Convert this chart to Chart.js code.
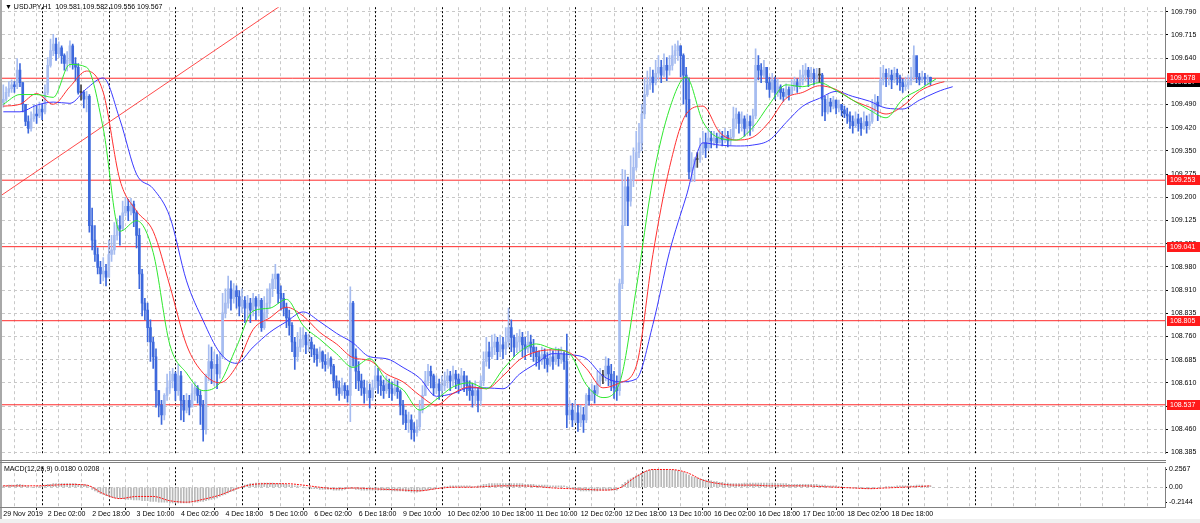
<!DOCTYPE html>
<html>
<head>
<meta charset="utf-8">
<script src="https://cdn.jsdelivr.net/npm/chart.js@4.4.1/dist/chart.umd.min.js"></script>
<style>
  html, body { margin: 0; padding: 0; background: #f0f0f0; }
  #wrap { position: relative; width: 1200px; height: 523px; overflow: hidden; }
  #panel { position: absolute; left: 0; top: 0; width: 1200px; height: 519px; background: #fff; }
  canvas { position: absolute; left: 0; }
  #main { top: 0; }
  #macd { top: 461px; }
  .txt { position: absolute; font: 7px "Liberation Sans", Arial, sans-serif; color: #000; white-space: pre; line-height: 8px; }
  .rule { position: absolute; background: #808080; }
</style>
</head>
<body>
<div id="wrap">
  <div id="panel"></div>
  <canvas id="main" width="1200" height="461"></canvas>
  <canvas id="macd" width="1200" height="62"></canvas>
  <div class="rule" style="left:0;top:0;width:2px;height:519px;background:#a8a8a8"></div>
  <div class="rule" style="left:0;top:460px;width:1166px;height:1px"></div>
  <div class="rule" style="left:0;top:462px;width:1166px;height:1px"></div>
  <div class="rule" style="left:0;top:507px;width:1166px;height:1px"></div>
  <div class="txt" style="left:5px;top:3px">▼ USDJPY,H1  109.581 109.582 109.556 109.567</div>
  <div class="txt" style="left:4px;top:465px">MACD(12,26,9) 0.0180 0.0208</div>
</div>
<script>
// USDJPY H1, one value per hourly bar (open = previous close)
const firstOpen = 109.500;
const closes = [
  109.511, 109.533, 109.545, 109.557, 109.551, 109.604, 109.564, 109.495,
  109.440, 109.418, 109.449, 109.464, 109.458, 109.480, 109.471, 109.533,
  109.619, 109.666, 109.687, 109.656, 109.675, 109.650, 109.625, 109.635,
  109.681, 109.625, 109.613, 109.533, 109.533, 109.511, 109.520, 109.108,
  109.062, 109.016, 108.975, 108.954, 108.963, 108.944, 109.016, 109.031,
  109.077, 109.108, 109.099, 109.149, 109.170, 109.155, 109.177, 109.149,
  109.077, 108.954, 108.861, 108.839, 108.783, 108.737, 108.690, 108.582,
  108.536, 108.505, 108.567, 108.591, 108.613, 108.635, 108.582, 108.629,
  108.551, 108.520, 108.551, 108.529, 108.573, 108.591, 108.567, 108.536,
  108.458, 108.629, 108.675, 108.653, 108.666, 108.635, 108.690, 108.830,
  108.861, 108.907, 108.876, 108.901, 108.882, 108.851, 108.870, 108.845,
  108.861, 108.839, 108.876, 108.851, 108.870, 108.783, 108.830, 108.861,
  108.907, 108.938, 108.954, 108.892, 108.876, 108.845, 108.814, 108.790,
  108.737, 108.690, 108.721, 108.746, 108.759, 108.728, 108.737, 108.715,
  108.697, 108.684, 108.706, 108.675, 108.666, 108.684, 108.660, 108.613,
  108.591, 108.573, 108.598, 108.582, 108.567, 108.861, 108.690, 108.644,
  108.613, 108.591, 108.573, 108.582, 108.560, 108.591, 108.629, 108.613,
  108.598, 108.582, 108.604, 108.588, 108.573, 108.591, 108.579, 108.536,
  108.505, 108.480, 108.489, 108.458, 108.449, 108.467, 108.520, 108.567,
  108.613, 108.644, 108.629, 108.591, 108.604, 108.582, 108.598, 108.613,
  108.629, 108.613, 108.635, 108.619, 108.604, 108.629, 108.613, 108.598,
  108.582, 108.567, 108.582, 108.551, 108.613, 108.675, 108.706, 108.690,
  108.721, 108.737, 108.706, 108.728, 108.715, 108.737, 108.783, 108.752,
  108.721, 108.737, 108.752, 108.728, 108.715, 108.737, 108.721, 108.706,
  108.690, 108.675, 108.697, 108.684, 108.666, 108.690, 108.675, 108.697,
  108.684, 108.697, 108.675, 108.505, 108.520, 108.489, 108.511, 108.480,
  108.505, 108.489, 108.567, 108.551, 108.582, 108.573, 108.613, 108.629,
  108.629, 108.660, 108.635, 108.613, 108.591, 108.582, 108.923, 109.108,
  109.232, 109.186, 109.254, 109.294, 109.341, 109.372, 109.464, 109.526,
  109.557, 109.582, 109.564, 109.594, 109.613, 109.588, 109.619, 109.604,
  109.619, 109.650, 109.666, 109.681, 109.650, 109.588, 109.511, 109.279,
  109.294, 109.319, 109.319, 109.341, 109.372, 109.356, 109.387, 109.378,
  109.387, 109.372, 109.393, 109.381, 109.396, 109.378, 109.390, 109.449,
  109.464, 109.434, 109.449, 109.418, 109.440, 109.427, 109.458, 109.619,
  109.604, 109.588, 109.613, 109.564, 109.542, 109.573, 109.533, 109.551,
  109.533, 109.520, 109.542, 109.526, 109.551, 109.564, 109.551, 109.573,
  109.588, 109.604, 109.582, 109.594, 109.576, 109.588, 109.588, 109.511,
  109.471, 109.502, 109.489, 109.508, 109.483, 109.495, 109.477, 109.464,
  109.458, 109.440, 109.427, 109.449, 109.434, 109.418, 109.440, 109.427,
  109.440, 109.480, 109.502, 109.489, 109.573, 109.594, 109.582, 109.588,
  109.573, 109.594, 109.582, 109.564, 109.551, 109.557, 109.570, 109.582,
  109.650, 109.582, 109.573, 109.582, 109.576, 109.581, 109.567
];
const highs = [
  109.557, 109.551, 109.567, 109.573, 109.567, 109.641, 109.625, 109.564,
  109.495, 109.458, 109.471, 109.495, 109.489, 109.502, 109.495, 109.557,
  109.644, 109.703, 109.718, 109.706, 109.694, 109.681, 109.656, 109.663,
  109.697, 109.687, 109.644, 109.625, 109.557, 109.539, 109.536, 109.526,
  109.164, 109.108, 109.037, 108.994, 109.006, 108.985, 109.062, 109.077,
  109.118, 109.130, 109.139, 109.186, 109.198, 109.192, 109.195, 109.186,
  109.155, 109.099, 108.969, 108.876, 108.861, 108.808, 108.752, 108.715,
  108.582, 108.551, 108.573, 108.635, 108.644, 108.653, 108.641, 108.666,
  108.644, 108.567, 108.573, 108.567, 108.604, 108.610, 108.598, 108.582,
  108.551, 108.635, 108.728, 108.721, 108.706, 108.697, 108.706, 108.892,
  108.907, 108.947, 108.932, 108.923, 108.916, 108.901, 108.907, 108.882,
  108.886, 108.876, 108.892, 108.882, 108.889, 108.876, 108.882, 108.907,
  108.923, 108.954, 108.985, 108.954, 108.916, 108.892, 108.861, 108.839,
  108.799, 108.752, 108.768, 108.783, 108.783, 108.768, 108.762, 108.752,
  108.728, 108.715, 108.721, 108.709, 108.697, 108.703, 108.690, 108.666,
  108.629, 108.613, 108.622, 108.607, 108.598, 108.913, 108.867, 108.715,
  108.675, 108.635, 108.616, 108.613, 108.604, 108.616, 108.660, 108.653,
  108.629, 108.616, 108.629, 108.619, 108.610, 108.619, 108.613, 108.585,
  108.551, 108.520, 108.514, 108.505, 108.480, 108.489, 108.551, 108.598,
  108.644, 108.666, 108.660, 108.635, 108.629, 108.619, 108.629, 108.641,
  108.650, 108.644, 108.660, 108.647, 108.635, 108.653, 108.644, 108.629,
  108.613, 108.604, 108.613, 108.591, 108.629, 108.706, 108.752, 108.737,
  108.759, 108.762, 108.752, 108.759, 108.752, 108.783, 108.845, 108.808,
  108.759, 108.765, 108.777, 108.768, 108.752, 108.771, 108.759, 108.746,
  108.721, 108.709, 108.721, 108.715, 108.703, 108.715, 108.709, 108.721,
  108.715, 108.721, 108.706, 108.762, 108.551, 108.542, 108.551, 108.536,
  108.536, 108.529, 108.573, 108.591, 108.604, 108.598, 108.644, 108.653,
  108.647, 108.690, 108.684, 108.666, 108.644, 108.629, 108.938, 109.288,
  109.285, 109.263, 109.331, 109.356, 109.409, 109.434, 109.495, 109.579,
  109.601, 109.613, 109.604, 109.635, 109.650, 109.635, 109.656, 109.644,
  109.650, 109.681, 109.687, 109.697, 109.681, 109.656, 109.613, 109.579,
  109.341, 109.325, 109.341, 109.387, 109.409, 109.403, 109.418, 109.409,
  109.409, 109.403, 109.415, 109.409, 109.418, 109.409, 109.415, 109.486,
  109.483, 109.471, 109.471, 109.458, 109.464, 109.458, 109.480, 109.672,
  109.650, 109.625, 109.635, 109.613, 109.582, 109.594, 109.582, 109.576,
  109.557, 109.545, 109.560, 109.551, 109.573, 109.582, 109.576, 109.604,
  109.619, 109.625, 109.613, 109.613, 109.607, 109.610, 109.610, 109.594,
  109.520, 109.526, 109.514, 109.520, 109.508, 109.508, 109.495, 109.489,
  109.483, 109.471, 109.458, 109.471, 109.464, 109.452, 109.471, 109.458,
  109.464, 109.511, 109.526, 109.520, 109.613, 109.619, 109.607, 109.610,
  109.604, 109.613, 109.607, 109.588, 109.576, 109.582, 109.588, 109.613,
  109.681, 109.644, 109.594, 109.601, 109.594, 109.588, 109.582
];
const lows = [
  109.486, 109.505, 109.520, 109.533, 109.533, 109.545, 109.551, 109.471,
  109.427, 109.403, 109.409, 109.440, 109.434, 109.452, 109.446, 109.464,
  109.526, 109.613, 109.650, 109.635, 109.644, 109.625, 109.604, 109.601,
  109.613, 109.607, 109.570, 109.527, 109.508, 109.483, 109.471, 109.087,
  109.031, 108.994, 108.954, 108.923, 108.932, 108.916, 108.975, 108.994,
  109.016, 109.062, 109.046, 109.093, 109.139, 109.124, 109.142, 109.105,
  109.037, 108.907, 108.820, 108.808, 108.737, 108.675, 108.653, 108.529,
  108.498, 108.474, 108.489, 108.551, 108.573, 108.591, 108.551, 108.567,
  108.489, 108.483, 108.511, 108.505, 108.542, 108.551, 108.542, 108.474,
  108.421, 108.443, 108.613, 108.604, 108.598, 108.588, 108.622, 108.684,
  108.814, 108.845, 108.839, 108.861, 108.845, 108.820, 108.830, 108.799,
  108.814, 108.799, 108.820, 108.808, 108.820, 108.771, 108.777, 108.814,
  108.845, 108.882, 108.907, 108.861, 108.839, 108.820, 108.783, 108.759,
  108.706, 108.650, 108.675, 108.706, 108.721, 108.700, 108.706, 108.690,
  108.672, 108.660, 108.672, 108.653, 108.644, 108.653, 108.635, 108.591,
  108.567, 108.551, 108.567, 108.557, 108.545, 108.483, 108.660, 108.588,
  108.582, 108.567, 108.542, 108.551, 108.526, 108.551, 108.585, 108.573,
  108.567, 108.557, 108.573, 108.560, 108.551, 108.567, 108.557, 108.505,
  108.474, 108.458, 108.449, 108.427, 108.421, 108.437, 108.455, 108.511,
  108.567, 108.598, 108.591, 108.567, 108.573, 108.554, 108.567, 108.582,
  108.591, 108.582, 108.598, 108.588, 108.573, 108.591, 108.579, 108.567,
  108.551, 108.529, 108.536, 108.514, 108.536, 108.598, 108.660, 108.653,
  108.684, 108.697, 108.681, 108.690, 108.684, 108.697, 108.721, 108.706,
  108.690, 108.703, 108.709, 108.690, 108.681, 108.703, 108.690, 108.675,
  108.660, 108.650, 108.666, 108.653, 108.641, 108.660, 108.650, 108.666,
  108.660, 108.669, 108.650, 108.464, 108.489, 108.467, 108.480, 108.452,
  108.467, 108.449, 108.480, 108.536, 108.551, 108.542, 108.567, 108.598,
  108.604, 108.613, 108.598, 108.582, 108.557, 108.551, 108.567, 108.907,
  109.108, 109.108, 109.170, 109.232, 109.285, 109.325, 109.347, 109.449,
  109.520, 109.542, 109.533, 109.557, 109.573, 109.564, 109.582, 109.570,
  109.588, 109.604, 109.625, 109.635, 109.582, 109.495, 109.455, 109.257,
  109.248, 109.248, 109.294, 109.310, 109.334, 109.325, 109.347, 109.356,
  109.365, 109.356, 109.372, 109.362, 109.372, 109.359, 109.365, 109.384,
  109.418, 109.403, 109.409, 109.393, 109.403, 109.396, 109.409, 109.449,
  109.573, 109.564, 109.579, 109.542, 109.517, 109.533, 109.511, 109.520,
  109.511, 109.505, 109.517, 109.508, 109.526, 109.539, 109.533, 109.545,
  109.557, 109.570, 109.551, 109.564, 109.557, 109.564, 109.564, 109.458,
  109.443, 109.464, 109.471, 109.480, 109.464, 109.471, 109.458, 109.452,
  109.434, 109.418, 109.403, 109.421, 109.409, 109.396, 109.415, 109.403,
  109.415, 109.434, 109.471, 109.443, 109.489, 109.557, 109.551, 109.557,
  109.545, 109.564, 109.557, 109.539, 109.533, 109.539, 109.545, 109.557,
  109.573, 109.564, 109.557, 109.564, 109.557, 109.557, 109.556
];

// Alligator lines, read every 6 bars (jaw shifted 8 bars, teeth 5, lips 3)
const maBars = [0, 6, 12, 18, 24, 30, 36, 42, 48, 54, 60, 66, 72, 78, 84, 90, 96, 102, 108, 114,
  120, 126, 132, 138, 144, 150, 156, 162, 168, 174, 180, 186, 192, 198, 204, 210, 216, 222, 228, 234,
  240, 246, 252, 258, 264, 270, 276, 282, 288, 294, 300, 306, 312, 318, 324, 330, 336, 339, 342];
const jaw = [109.471, 109.471, 109.492, 109.502, 109.498, 109.545, 109.579, 109.446, 109.272, 109.226,
  109.136, 108.932, 108.805, 108.703, 108.669, 108.721, 108.768, 108.802, 108.833, 108.802,
  108.765, 108.734, 108.690, 108.684, 108.656, 108.622, 108.564, 108.573, 108.591, 108.591,
  108.588, 108.635, 108.669, 108.700, 108.697, 108.684, 108.629, 108.610, 108.619, 108.793,
  109.025, 109.201, 109.372, 109.365, 109.362, 109.365, 109.381, 109.437, 109.489, 109.514,
  109.536, 109.520, 109.505, 109.483, 109.480, 109.508, 109.533, 109.543, 109.551];
const teeth = [109.489, 109.495, 109.529, 109.495, 109.551, 109.601, 109.533, 109.254, 109.155, 109.090,
  108.916, 108.728, 108.638, 108.607, 108.660, 108.777, 108.814, 108.848, 108.820, 108.768,
  108.731, 108.687, 108.678, 108.635, 108.610, 108.567, 108.536, 108.573, 108.594, 108.588,
  108.629, 108.681, 108.706, 108.712, 108.703, 108.653, 108.591, 108.607, 108.660, 109.016,
  109.294, 109.464, 109.489, 109.406, 109.381, 109.390, 109.440, 109.514, 109.533, 109.554,
  109.542, 109.508, 109.486, 109.464, 109.489, 109.536, 109.560, 109.567, null];
const lips = [109.495, 109.526, 109.526, 109.517, 109.622, 109.613, 109.418, 109.090, 109.124, 109.022,
  108.728, 108.638, 108.582, 108.607, 108.721, 108.836, 108.845, 108.873, 108.790, 108.746,
  108.700, 108.656, 108.684, 108.616, 108.585, 108.520, 108.554, 108.594, 108.607, 108.588,
  108.650, 108.706, 108.731, 108.715, 108.700, 108.601, 108.560, 108.607, 108.907, 109.257,
  109.480, 109.582, 109.440, 109.387, 109.381, 109.421, 109.495, 109.557, 109.551, 109.564,
  109.539, 109.508, 109.477, 109.452, 109.511, 109.542, 109.576, null, null];

// MACD(12,26,9): main per bar, signal read every 6 bars
const macdMain = [
  0.02, 0.02, 0.03, 0.03, 0.03, 0.04, 0.04, 0.03, 0.02, 0.01,
  0.00, 0.00, 0.01, 0.01, 0.02,
  0.03, 0.04, 0.04, 0.05, 0.05, 0.05, 0.05, 0.05, 0.05, 0.05,
  0.05, 0.05, 0.04, 0.04, 0.04, 0.03, 0.01,
  -0.03, -0.05, -0.07, -0.09, -0.10, -0.12, -0.13, -0.14, -0.15, -0.15,
  -0.16, -0.16, -0.17, -0.17, -0.17, -0.18, -0.18, -0.18, -0.19, -0.19,
  -0.19, -0.20, -0.20, -0.20, -0.21, -0.21, -0.21, -0.21, -0.22, -0.22,
  -0.22, -0.22, -0.22, -0.22, -0.22, -0.22, -0.21, -0.21, -0.21, -0.20,
  -0.20, -0.19, -0.18, -0.17, -0.16, -0.15, -0.13, -0.11, -0.10, -0.08,
  -0.06, -0.05, -0.03, -0.01,
  0.01, 0.03, 0.04, 0.05, 0.05, 0.06, 0.06, 0.06, 0.06, 0.06, 0.06, 0.06, 0.05, 0.05, 0.05, 0.04, 0.04,
  0.03, 0.03, 0.02, 0.02, 0.01, 0.00,
  -0.01, -0.01, -0.02, -0.02, -0.02, -0.03, -0.03, -0.03, -0.03, -0.03, -0.04, -0.04, -0.04, -0.04,
  -0.03, -0.02, -0.02, -0.02, -0.03, -0.03, -0.04, -0.04, -0.04, -0.04, -0.04, -0.04, -0.04, -0.04,
  -0.04, -0.04, -0.04, -0.05, -0.05, -0.05,
  -0.05, -0.05, -0.06, -0.06, -0.07, -0.07, -0.07, -0.06, -0.05, -0.04, -0.04, -0.03, -0.03, -0.02,
  -0.01, 0.00, 0.01, 0.01, 0.02, 0.02, 0.02, 0.02, 0.02, 0.02, 0.02, 0.02, 0.01, 0.01, 0.02, 0.03,
  0.04, 0.04, 0.05, 0.05, 0.05, 0.05, 0.05, 0.05, 0.05, 0.05,
  0.05, 0.05, 0.05, 0.05, 0.05, 0.04, 0.04, 0.04, 0.04, 0.03, 0.03, 0.03, 0.03, 0.03, 0.02, 0.02,
  0.02, 0.02, 0.02, 0.02, 0.01, -0.01,
  -0.02, -0.03, -0.04, -0.05, -0.05, -0.05, -0.05, -0.05, -0.05, -0.05, -0.04, -0.04, -0.04, -0.04,
  -0.04, -0.04, -0.04,
  0.00, 0.04, 0.07, 0.10, 0.12, 0.14, 0.16, 0.18, 0.20,
  0.22, 0.23, 0.24, 0.25, 0.25, 0.25, 0.25, 0.25,
  0.25, 0.24, 0.24, 0.24, 0.23, 0.22, 0.21, 0.19, 0.17, 0.15, 0.14, 0.13,
  0.12, 0.11, 0.10, 0.09, 0.09, 0.08, 0.08, 0.07, 0.07, 0.06, 0.06, 0.05,
  0.05, 0.05, 0.05, 0.05, 0.06, 0.06, 0.06, 0.06, 0.06, 0.06, 0.06, 0.06, 0.06, 0.06, 0.06, 0.06,
  0.05, 0.05, 0.05, 0.05, 0.04, 0.04, 0.04, 0.04,
  0.04, 0.04, 0.04, 0.04, 0.04, 0.04, 0.04, 0.03, 0.03, 0.03, 0.02, 0.02, 0.02, 0.02, 0.01,
  0.01, 0.00, 0.00, -0.01, -0.01, -0.01, -0.01, -0.01, -0.02, -0.02, -0.02, -0.02, -0.01, -0.01,
  0.00, 0.00, 0.01, 0.01, 0.01, 0.01, 0.02, 0.02, 0.02, 0.02,
  0.02, 0.02, 0.02, 0.03, 0.03, 0.03, 0.02, 0.02, 0.02
];
const signalBars = [0, 6, 12, 18, 24, 30, 36, 42, 48, 54, 60, 66, 72, 78, 84, 90, 96, 102, 108, 114,
  120, 126, 132, 138, 144, 150, 156, 162, 168, 174, 180, 186, 192, 198, 204, 210, 216, 222, 228, 234,
  240, 246, 252, 258, 264, 270, 276, 282, 288, 294, 300, 306, 312, 318, 324, 330, 334];
const signal = [0.02, 0.02, 0.02, 0.03, 0.04, 0.03, -0.09, -0.16, -0.13, -0.13,
  -0.19, -0.21, -0.17, -0.11, -0.02, 0.04, 0.05, 0.05, 0.03, 0.00,
  -0.02, -0.01, -0.02, -0.03, -0.04, -0.05, -0.02, 0.00, 0.00, 0.01,
  0.02, 0.02, 0.01, -0.01, -0.02, -0.03, -0.04, -0.01, 0.15, 0.25,
  0.25, 0.21, 0.10, 0.05, 0.03, 0.03, 0.02, 0.02, 0.02, 0.01,
  0.00, -0.01, -0.02, -0.01, 0.00, 0.01, 0.02];

// horizontal levels, bid, trend line
const levelPrices = [109.578, 109.253, 109.041, 108.805, 108.537];
const bidPrice = 109.567;
const trendBars = [-2, 100];
const trendPrices = [109.197, 109.810];

// axes
const xLabels = ['29 Nov 2019', '2 Dec 02:00', '2 Dec 18:00', '3 Dec 10:00', '4 Dec 02:00', '4 Dec 18:00',
  '5 Dec 10:00', '6 Dec 02:00', '6 Dec 18:00', '9 Dec 10:00', '10 Dec 02:00', '10 Dec 18:00',
  '11 Dec 10:00', '12 Dec 02:00', '12 Dec 18:00', '13 Dec 10:00', '16 Dec 02:00', '16 Dec 18:00',
  '17 Dec 10:00', '18 Dec 02:00', '18 Dec 18:00'];
const daySeparators = [14, 38, 62, 86, 110, 134, 158, 182, 206, 230, 254, 278, 302, 326, 350];
const yTickLabels = ['109.790', '109.715', '109.640', '109.565', '109.490', '109.420', '109.350',
  '109.275', '109.200', '109.125', '109.050', '108.980', '108.910', '108.835', '108.760', '108.685',
  '108.610', '108.535', '108.460', '108.385'];
const macdTicks = [0.2567, 0, -0.2144];
const macdTickLabels = ['0.2567', '0.00', '-0.2144'];

const X_MIN = -0.47, X_MAX = 418.48;
const Y_MIN = 108.3807, Y_MAX = 109.8045;
const M_MIN = -0.2781, M_MAX = 0.2822;

const BULL = '#a6bcf0', BEAR = '#3d68dc', DOJI = '#404040';
const GRID = '#c8c8c8';
const FONT = '"Liberation Sans", Arial, sans-serif';

Chart.defaults.font.family = FONT;
Chart.defaults.font.size = 7;
Chart.defaults.color = '#000';
Chart.defaults.animation = false;

const opens = closes.map((c, i) => i === 0 ? firstOpen : closes[i - 1]);
const candleColor = i => closes[i] > opens[i] ? BULL : (closes[i] < opens[i] ? BEAR : DOJI);

const everyEight = s => {
  const t = [];
  for (let b = 0; b <= X_MAX; b += 8) t.push({ value: b });
  s.ticks = t;
};

const separators = {
  id: 'separators',
  beforeDatasetsDraw(chart) {
    const { ctx, chartArea: a, scales: { x } } = chart;
    ctx.save();
    ctx.strokeStyle = '#000';
    ctx.lineWidth = 1;
    ctx.setLineDash([2, 2]);
    daySeparators.forEach(b => {
      const px = Math.round(x.getPixelForValue(b)) + 0.5;
      ctx.beginPath();
      ctx.moveTo(px, a.top);
      ctx.lineTo(px, a.bottom);
      ctx.stroke();
    });
    ctx.restore();
  }
};

const priceTags = {
  id: 'priceTags',
  afterDraw(chart) {
    const { ctx, chartArea: a, scales: { y } } = chart;
    ctx.save();
    ctx.font = '7px ' + FONT;
    ctx.textBaseline = 'middle';
    const tag = (p, bg) => {
      const py = Math.round(y.getPixelForValue(p));
      ctx.fillStyle = bg;
      ctx.fillRect(a.right + 2, py - 5, 33, 10);
      ctx.fillStyle = '#fff';
      ctx.fillText(p.toFixed(3), a.right + 5, py + 0.5);
    };
    tag(bidPrice, '#000');
    levelPrices.forEach(p => tag(p, '#ff1a1a'));
    ctx.restore();
  }
};

const lineSet = (data, color, order, extra) => Object.assign({
  type: 'line', data, borderColor: color, borderWidth: 1, pointRadius: 0,
  fill: false, order, spanGaps: false
}, extra || {});

const mainDatasets = [
  lineSet(maBars.map((b, k) => ({ x: b, y: lips[k] })), '#2ee82e', 0, { cubicInterpolationMode: 'monotone' }),
  lineSet(maBars.map((b, k) => ({ x: b, y: teeth[k] })), '#ff3030', 0, { cubicInterpolationMode: 'monotone' }),
  lineSet(maBars.map((b, k) => ({ x: b, y: jaw[k] })), '#3a3aff', 0, { cubicInterpolationMode: 'monotone' }),
  {
    type: 'bar', order: 1, grouped: false, barThickness: 2, minBarLength: 1,
    data: closes.map((c, i) => ({ x: i, y: [opens[i], c] })),
    backgroundColor: closes.map((c, i) => candleColor(i)), borderWidth: 0
  },
  {
    type: 'bar', order: 2, grouped: false, barThickness: 1,
    data: closes.map((c, i) => ({ x: i, y: [lows[i], highs[i]] })),
    backgroundColor: closes.map((c, i) => candleColor(i)), borderWidth: 0
  },
  ...levelPrices.map(p => lineSet([{ x: X_MIN, y: p }, { x: X_MAX, y: p }], '#ff2a2a', 3)),
  lineSet(trendBars.map((b, k) => ({ x: b, y: trendPrices[k] })), '#ff4a4a', 3),
  lineSet([{ x: X_MIN, y: bidPrice }, { x: X_MAX, y: bidPrice }], '#c0c0c0', 4)
];

new Chart(document.getElementById('main'), {
  type: 'bar',
  data: { datasets: mainDatasets },
  options: {
    responsive: false,
    devicePixelRatio: 1,
    layout: { padding: { left: 2, right: 0, top: 0, bottom: 0 } },
    plugins: { legend: { display: false }, tooltip: { enabled: false } },
    scales: {
      x: {
        type: 'linear', min: X_MIN, max: X_MAX, offset: false,
        afterBuildTicks: everyEight,
        afterFit: s => { s.height = 1; },
        ticks: { display: false },
        grid: { color: GRID, drawTicks: false },
        border: { display: false, dash: [3, 3] }
      },
      y: {
        type: 'linear', position: 'right', min: Y_MIN, max: Y_MAX,
        afterBuildTicks: s => {
          const step = (109.790 - 108.385) / (yTickLabels.length - 1);
          s.ticks = yTickLabels.map((t, k) => ({ value: 109.790 - k * step }));
        },
        afterFit: s => { s.width = 35; },
        ticks: { autoSkip: false, padding: 3, callback: (v, i) => yTickLabels[i] },
        grid: { color: GRID, tickColor: '#000', tickLength: 3 },
        border: { display: true, color: '#808080', dash: [3, 3] }
      }
    }
  },
  plugins: [separators, priceTags]
});

new Chart(document.getElementById('macd'), {
  type: 'bar',
  data: {
    datasets: [
      lineSet(signalBars.map((b, k) => ({ x: b, y: signal[k] })), '#ff1010', 0,
        { borderDash: [2, 1], cubicInterpolationMode: 'monotone' }),
      {
        type: 'bar', order: 1, grouped: false, barThickness: 1,
        data: macdMain.map((v, i) => ({ x: i, y: v })),
        backgroundColor: '#b8b8b8', borderWidth: 0
      }
    ]
  },
  options: {
    responsive: false,
    devicePixelRatio: 1,
    layout: { padding: { left: 2, right: 0, top: 2, bottom: 0 } },
    plugins: { legend: { display: false }, tooltip: { enabled: false } },
    scales: {
      x: {
        type: 'linear', min: X_MIN, max: X_MAX, offset: false,
        afterBuildTicks: everyEight,
        afterFit: s => { s.height = 16; },
        ticks: {
          autoSkip: false, maxRotation: 0, align: 'start', padding: 0,
          callback: v => (v % 16 === 0 && xLabels[v / 16]) ? xLabels[v / 16] : ''
        },
        grid: {
          color: GRID, tickLength: 3,
          tickColor: c => (c.tick && c.tick.value % 16 === 0 && xLabels[c.tick.value / 16]) ? '#000' : 'rgba(0,0,0,0)'
        },
        border: { display: false, dash: [3, 3] }
      },
      y: {
        type: 'linear', position: 'right', min: M_MIN, max: M_MAX,
        afterBuildTicks: s => { s.ticks = macdTicks.map(v => ({ value: v })); },
        afterFit: s => { s.width = 35; },
        ticks: { autoSkip: false, padding: 2, callback: (v, i) => macdTickLabels[i] },
        grid: {
          color: c => (c.tick && c.tick.value === 0) ? GRID : 'rgba(0,0,0,0)',
          tickColor: '#000', tickLength: 2
        },
        border: { display: true, color: '#808080', dash: [3, 3] }
      }
    }
  },
  plugins: [separators]
});
</script>
</body>
</html>
